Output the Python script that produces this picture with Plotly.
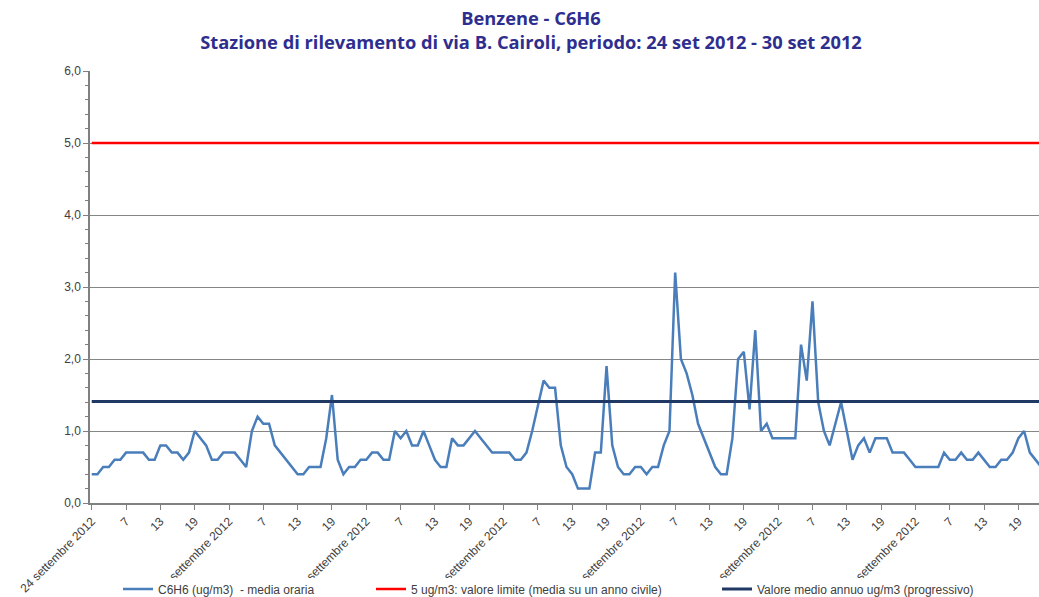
import plotly.graph_objects as go

# Hourly benzene values (ug/m3), starting 24 set 2012
c6h6 = [
    0.4, 0.4, 0.5, 0.5, 0.6, 0.6, 0.7, 0.7, 0.7, 0.7, 0.6, 0.6, 0.8, 0.8, 0.7, 0.7,
    0.6, 0.7, 1.0, 0.9, 0.8, 0.6, 0.6, 0.7, 0.7, 0.7, 0.6, 0.5, 1.0, 1.2, 1.1, 1.1,
    0.8, 0.7, 0.6, 0.5, 0.4, 0.4, 0.5, 0.5, 0.5, 0.9, 1.5, 0.6, 0.4, 0.5, 0.5, 0.6,
    0.6, 0.7, 0.7, 0.6, 0.6, 1.0, 0.9, 1.0, 0.8, 0.8, 1.0, 0.8, 0.6, 0.5, 0.5, 0.9,
    0.8, 0.8, 0.9, 1.0, 0.9, 0.8, 0.7, 0.7, 0.7, 0.7, 0.6, 0.6, 0.7, 1.0, 1.35, 1.7,
    1.6, 1.6, 0.8, 0.5, 0.4, 0.2, 0.2, 0.2, 0.7, 0.7, 1.9, 0.8, 0.5, 0.4, 0.4, 0.5,
    0.5, 0.4, 0.5, 0.5, 0.8, 1.0, 3.2, 2.0, 1.8, 1.5, 1.1, 0.9, 0.7, 0.5, 0.4, 0.4,
    0.9, 2.0, 2.1, 1.3, 2.4, 1.0, 1.1, 0.9, 0.9, 0.9, 0.9, 0.9, 2.2, 1.7, 2.8, 1.4,
    1.0, 0.8, 1.1, 1.4, 1.0, 0.6, 0.8, 0.9, 0.7, 0.9, 0.9, 0.9, 0.7, 0.7, 0.7, 0.6,
    0.5, 0.5, 0.5, 0.5, 0.5, 0.7, 0.6, 0.6, 0.7, 0.6, 0.6, 0.7, 0.6, 0.5, 0.5, 0.6,
    0.6, 0.7, 0.9, 1.0, 0.7, 0.6, 0.5,
]
limit_value = 5.0
annual_mean = 1.41

days = ["24", "25", "26", "27", "28", "29", "30"]
hour_labels = ["7", "13", "19"]

series_names = [
    "C6H6 (ug/m3)  - media oraria",
    "5 ug/m3: valore limite (media su un anno civile)",
    "Valore medio annuo ug/m3 (progressivo)",
]

n_hours = 24 * len(days)
x_all = list(range(n_hours))
x_data = list(range(len(c6h6)))

tickvals, ticktext = [], []
for d_i, d in enumerate(days):
    tickvals.append(d_i * 24)
    ticktext.append(f"{d} settembre 2012")
    for h_i, h in enumerate(hour_labels):
        tickvals.append(d_i * 24 + 6 * (h_i + 1))
        ticktext.append(h)

fig = go.Figure()
fig.add_trace(go.Scatter(x=x_data, y=c6h6, mode="lines", name=series_names[0],
                         line=dict(color="#4A7EBB", width=2.5), legend="legend",
                         showlegend=True))
fig.add_trace(go.Scatter(x=x_all, y=[limit_value] * n_hours, mode="lines", name=series_names[1],
                         line=dict(color="#FF0000", width=2.5), legend="legend2"))
fig.add_trace(go.Scatter(x=x_all, y=[annual_mean] * n_hours, mode="lines", name=series_names[2],
                         line=dict(color="#1F3864", width=3), legend="legend3"))

W, H = 1039, 597
L, T, B = 90, 71, 94
PW = W - L
PH = H - T - B


def px_x(px):
    return (px - L) / PW


def px_y(py):
    return (H - B - py) / PH


legend_font = dict(family="Liberation Sans, Arial", size=12, color="#404040")
common_leg = dict(orientation="h", xref="container", yref="container", yanchor="middle",
                  y=1 - 589 / H, xanchor="left", font=legend_font,
                  bgcolor="rgba(0,0,0,0)", borderwidth=0)

fig.update_layout(
    width=W, height=H,
    showlegend=True,
    margin=dict(l=L, r=0, t=T, b=B, pad=0),
    paper_bgcolor="white", plot_bgcolor="white",
    separators=",.",
    title=dict(
        text="<b>Benzene - C6H6</b><br><b>Stazione di rilevamento di via B. Cairoli, periodo: 24 set 2012 - 30 set 2012</b>",
        x=531 / W, xanchor="center", xref="container",
        y=1 - 25 / H, yanchor="top", yref="container",
        font=dict(family="Open Sans, Lato, sans-serif", size=18.3, color="#2E2E8F"),
        automargin=False,
    ),
    legend=dict(x=118 / W, **common_leg),
    legend2=dict(x=371 / W, **common_leg),
    legend3=dict(x=717 / W, **common_leg),
    xaxis=dict(
        range=[-0.3, 165.6],
        tickmode="array", tickvals=tickvals, ticktext=ticktext,
        tickangle=-45,
        ticks="outside", ticklen=5, tickcolor="#808080",
        showline=True, linecolor="#808080", linewidth=1.5,
        showgrid=False, zeroline=False, automargin=False,
        tickfont=dict(family="Liberation Sans, Arial", size=12, color="#404040"),
    ),
    yaxis=dict(
        range=[0, 6], dtick=1, tickformat=".1f",
        ticks="outside", ticklen=5, tickcolor="#808080",
        minor=dict(dtick=0.2, ticks="outside", ticklen=3, tickcolor="#808080", showgrid=False),
        showline=True, linecolor="#808080", linewidth=1.5,
        showgrid=True, gridcolor="#868686", gridwidth=1,
        zeroline=False, automargin=False,
        tickfont=dict(family="Liberation Sans, Arial", size=12, color="#404040"),
    ),
)

# white strip behind the legend row (hides the lower part of the rotated date labels)
fig.add_shape(type="rect", xref="paper", yref="paper",
              x0=px_x(100), x1=1.0, y0=px_y(640), y1=px_y(578),
              fillcolor="white", line=dict(width=0), layer="above")

fig.write_html("out.html", config={"displayModeBar": False},
               post_script="document.body.style.margin='0';")
